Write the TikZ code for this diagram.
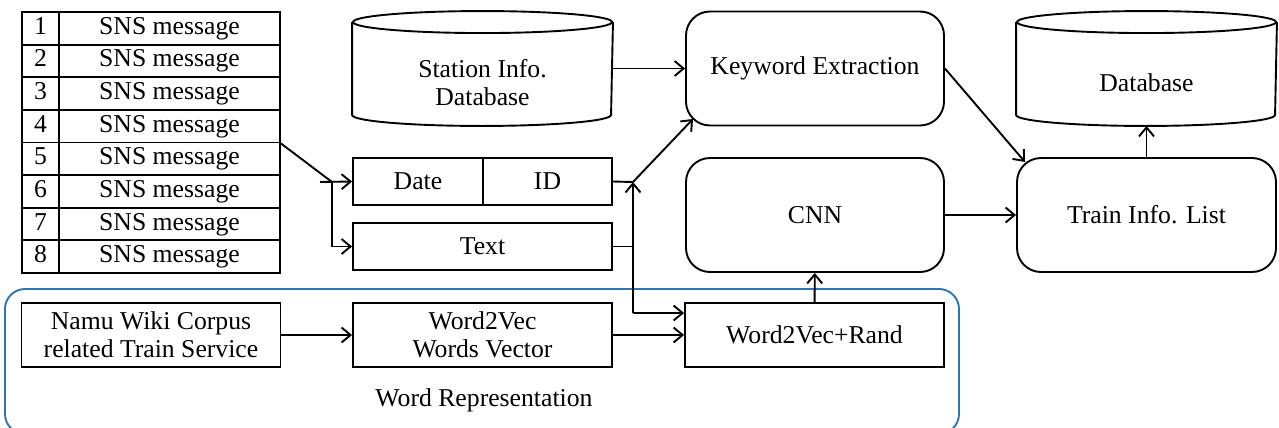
\documentclass[tikz,border=0pt]{standalone}
\usepackage{fontspec}
\setmainfont{Liberation Serif}
\usetikzlibrary{arrows.meta}
\definecolor{wrblue}{RGB}{46,117,182}
% database cylinder drawn round a node
\newcommand{\dbcyl}[1]{%
  \draw ([yshift=-5.5pt]#1.north) ellipse [x radius=64.75pt, y radius=5.5pt];
  \draw ([yshift=-5.5pt]#1.north west) -- ([yshift=5.5pt]#1.south west)
  arc[start angle=180, end angle=360, x radius=64.75pt, y radius=5.5pt]
  -- ([yshift=-5.5pt]#1.north east);}

\begin{document}
\begin{tikzpicture}[x=0.5pt,y=-0.5pt,
  font=\fontsize{12.85}{14}\selectfont, line width=0.95pt,
  >={Straight Barb[length=4.5pt,width=7.5pt]},
  numcell/.style={draw,minimum width=18.5pt,minimum height=16.3125pt,inner sep=0pt,
    text height=8.8pt,text depth=2.8pt},
  msgcell/.style={numcell,minimum width=110.5pt},
  procbox/.style={draw,minimum width=129.5pt,minimum height=32pt,inner sep=0pt,align=center},
  roundbox/.style={draw,rounded corners=12pt,minimum width=129pt,minimum height=57pt},
  dbase/.style={minimum width=129.5pt,minimum height=56.5pt,inner sep=0pt}]
  \useasboundingbox (0,0) rectangle (1279,428);
  \clip (0,0) rectangle (1279,428);

  \foreach \i in {1,...,8}{
    \node[numcell] (n\i) at (40.5,{12+32.625*(\i-0.5)}) {\i};
    \node[msgcell] (m\i) at (169.5,{12+32.625*(\i-0.5)}) {SNS message};
  }

  \node[dbase, label={[align=center,yshift=-7pt]center:{Station Info.\\Database}}]
  (stdb) at (482.5,68.5) {};
  \dbcyl{stdb}
  \node[dbase, label={[yshift=-7pt]center:Database}] (db) at (1146.5,68.5) {};
  \dbcyl{db}

  \node[draw,minimum width=65pt,minimum height=23.5pt] (date) at (418,181.5) {Date};
  \node[draw,minimum width=64.5pt,minimum height=23.5pt] (id) at (547.5,181.5) {ID};
  \node[draw,minimum width=129.5pt,minimum height=23.5pt] (text) at (482.5,246.5) {Text};

  \node[roundbox] (kw) at (815,68.5) {Keyword Extraction};
  \node[roundbox] (cnn) at (815,215) {CNN};
  \node[roundbox,minimum width=129.5pt] (train) at (1146.5,215) {Train Info. List};

  \node[draw=wrblue,rounded corners=10pt,minimum width=477pt,minimum height=72.5pt]
  (wr) at (482,361.5) {};
  \node (wrlabel) at (484,400) {Word Representation};
  \node[procbox] (namu) at (151,335) {Namu Wiki Corpus\\related Train Service};
  \node[procbox] (w2v) at (482.5,335) {Word2Vec\\Words Vector};
  \node[procbox] (w2vr) at (814.5,335) {Word2Vec+Rand};

  \coordinate (split) at (332,182);
  \coordinate (tick) at (320,182);
  \coordinate (jn) at (633,182);
  \coordinate (low) at (633,313);
  \coordinate (kwin) at (693,119);
  \coordinate (trin) at (1025,162);

  \draw (m4.south east) -- (split);
  \draw[->] (tick) -- (date.west);
  \draw[->] (split) |- (text.west);
  \draw (id.east) -- (jn);
  \draw[->] (jn) -- (kwin);
  \draw (text.east) -- (text.east -| jn);
  \draw[->] (low) -- (jn);
  \draw[->] (low) -- (low -| w2vr.west);
  \draw[->] (stdb.east) -- (kw.west);
  \draw[->] (kw.east) -- (trin);
  \draw[->] (cnn) -- (train);
  \draw[->] (train) -- (db.south);
  \draw[->] (w2vr) -- (cnn);
  \draw[->] (namu) -- (w2v);
  \draw[->] (w2v) -- (w2vr);
\end{tikzpicture}
\end{document}
